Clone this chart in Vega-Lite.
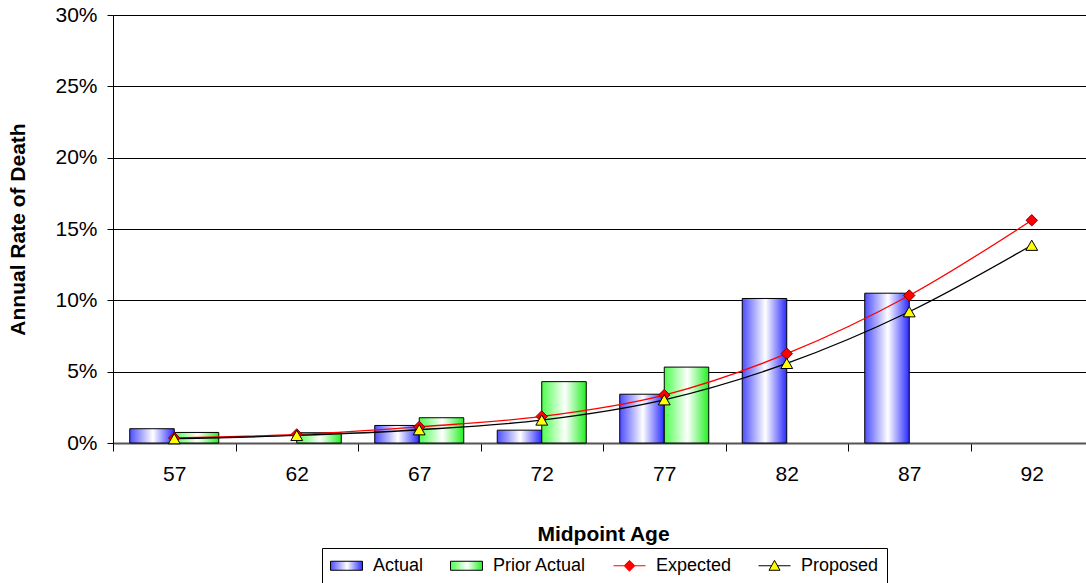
{
  "$schema": "https://vega.github.io/schema/vega-lite/v6.json",
  "width": 973,
  "height": 428,
  "autosize": "none",
  "padding": {"left": 113, "top": 15, "right": 0, "bottom": 140},
  "background": "white",
  "config": {
    "font": "Liberation Sans",
    "view": {"stroke": null},
    "axis": {"labelFont": "Liberation Sans", "titleFont": "Liberation Sans", "labelColor": "black", "titleColor": "black"}
  },
  "data": {
    "values": [
      {"age": "57", "series": "Actual", "value": 0.0100},
      {"age": "67", "series": "Actual", "value": 0.0123},
      {"age": "72", "series": "Actual", "value": 0.0090},
      {"age": "77", "series": "Actual", "value": 0.0342},
      {"age": "82", "series": "Actual", "value": 0.1013},
      {"age": "87", "series": "Actual", "value": 0.1050},
      {"age": "57", "series": "Prior Actual", "value": 0.0074},
      {"age": "62", "series": "Prior Actual", "value": 0.0072},
      {"age": "67", "series": "Prior Actual", "value": 0.0177},
      {"age": "72", "series": "Prior Actual", "value": 0.0430},
      {"age": "77", "series": "Prior Actual", "value": 0.0532},
      {"age": "57", "series": "Expected", "value": 0.0035},
      {"age": "62", "series": "Expected", "value": 0.0060},
      {"age": "67", "series": "Expected", "value": 0.0113},
      {"age": "72", "series": "Expected", "value": 0.0186},
      {"age": "77", "series": "Expected", "value": 0.0336},
      {"age": "82", "series": "Expected", "value": 0.0626},
      {"age": "87", "series": "Expected", "value": 0.1034},
      {"age": "92", "series": "Expected", "value": 0.1561},
      {"age": "57", "series": "Proposed", "value": 0.0030},
      {"age": "62", "series": "Proposed", "value": 0.0053},
      {"age": "67", "series": "Proposed", "value": 0.0093},
      {"age": "72", "series": "Proposed", "value": 0.0161},
      {"age": "77", "series": "Proposed", "value": 0.0303},
      {"age": "82", "series": "Proposed", "value": 0.0558},
      {"age": "87", "series": "Proposed", "value": 0.0920},
      {"age": "92", "series": "Proposed", "value": 0.1386}
    ]
  },
  "encoding": {
    "x": {
      "field": "age", "type": "ordinal",
      "scale": {"type": "band", "paddingInner": 0, "paddingOuter": 0, "range": [0, 980], "domain": ["57","62","67","72","77","82","87","92"]},
      "axis": {
        "title": "Midpoint Age", "titleFontSize": 21, "titleFontWeight": "bold", "titlePadding": 39,
        "labelAngle": 0, "labelFontSize": 21, "labelPadding": 12,
        "tickBand": "extent", "tickSize": 8, "tickColor": "black",
        "domainColor": "#555555", "domainWidth": 2, "grid": false
      }
    },
    "y": {
      "field": "value", "type": "quantitative",
      "scale": {"domain": [0, 0.3], "nice": false},
      "axis": {
        "title": "Annual Rate of Death", "titleFontSize": 21, "titleFontWeight": "bold", "titlePadding": 26,
        "format": ".0%", "values": [0, 0.05, 0.1, 0.15, 0.2, 0.25, 0.3],
        "labelFontSize": 21, "labelPadding": 10, "tickSize": 6, "tickColor": "black",
        "domainColor": "black", "grid": true, "gridColor": "black", "gridOpacity": 1, "gridWidth": 1
      }
    },
    "xOffset": {"field": "series", "scale": {"domain": ["Actual", "Prior Actual"], "paddingInner": 0, "paddingOuter": 0.376}},
    "stroke": {
      "field": "series", "type": "nominal",
      "scale": {"domain": ["Actual", "Prior Actual", "Expected", "Proposed"], "range": ["black", "black", "#ff0000", "black"]},
      "legend": {
        "orient": "none", "legendX": 209, "legendY": 533, "direction": "horizontal", "title": null,
        "strokeColor": "black", "fillColor": "white", "padding": 8,
        "labelFont": "Liberation Sans", "labelFontSize": 18, "labelColor": "black",
        "symbolSize": 324, "columnPadding": 24, "labelOffset": 24, "symbolStrokeWidth": 1,
        "encode": {
          "symbols": {
            "update": {
              "shape": {"signal": "datum.value === 'Expected' ? 'M-1,0H0.178M1.378,0H2.556M0.778,-0.6L1.378,0L0.778,0.6L0.178,0Z' : datum.value === 'Proposed' ? 'M-1,0H0.47M1.086,0H2.556M0.778,-0.6L1.388,0.5L0.168,0.5Z' : 'M-1,-0.5H2.556V0.5H-1Z'"},
              "fill": [
                {"test": "datum.value === 'Actual'", "value": {"gradient": "linear", "x1": 0, "y1": 0, "x2": 1, "y2": 0, "stops": [{"offset": 0, "color": "#4d4dff"}, {"offset": 0.52, "color": "#ffffff"}, {"offset": 1, "color": "#2a2aff"}]}},
                {"test": "datum.value === 'Prior Actual'", "value": {"gradient": "linear", "x1": 0, "y1": 0, "x2": 1, "y2": 0, "stops": [{"offset": 0, "color": "#4dff4d"}, {"offset": 0.52, "color": "#ffffff"}, {"offset": 1, "color": "#22f022"}]}},
                {"test": "datum.value === 'Expected'", "value": "#ff0000"},
                {"value": "#ffff00"}
              ],
              "strokeWidth": {"value": 1},
              "opacity": {"value": 1}
            }
          }
        }
      }
    }
  },
  "layer": [
    {
      "transform": [{"filter": "datum.series === 'Actual'"}],
      "mark": {"type": "bar", "strokeWidth": 1, "fill": {"gradient": "linear", "x1": 0, "y1": 0, "x2": 1, "y2": 0, "stops": [{"offset": 0, "color": "#4d4dff"}, {"offset": 0.52, "color": "#ffffff"}, {"offset": 1, "color": "#2a2aff"}]}}
    },
    {
      "transform": [{"filter": "datum.series === 'Prior Actual'"}],
      "mark": {"type": "bar", "strokeWidth": 1, "fill": {"gradient": "linear", "x1": 0, "y1": 0, "x2": 1, "y2": 0, "stops": [{"offset": 0, "color": "#4dff4d"}, {"offset": 0.52, "color": "#ffffff"}, {"offset": 1, "color": "#22f022"}]}}
    },
    {
      "transform": [{"filter": "datum.series === 'Expected'"}],
      "mark": {"type": "line", "strokeWidth": 1.3, "interpolate": "monotone"},
      "encoding": {"xOffset": null}
    },
    {
      "transform": [{"filter": "datum.series === 'Proposed'"}],
      "mark": {"type": "line", "strokeWidth": 1.3, "interpolate": "monotone"},
      "encoding": {"xOffset": null}
    },
    {
      "transform": [{"filter": "datum.series === 'Expected'"}],
      "mark": {"type": "point", "shape": "diamond", "filled": true, "fill": "#ff0000", "strokeWidth": 1, "size": 130, "opacity": 1},
      "encoding": {"xOffset": null, "stroke": {"value": "#800000"}}
    },
    {
      "transform": [{"filter": "datum.series === 'Proposed'"}],
      "mark": {"type": "point", "shape": "triangle-up", "filled": true, "fill": "#ffff00", "strokeWidth": 1, "size": 140, "opacity": 1},
      "encoding": {"xOffset": null}
    }
  ]
}
